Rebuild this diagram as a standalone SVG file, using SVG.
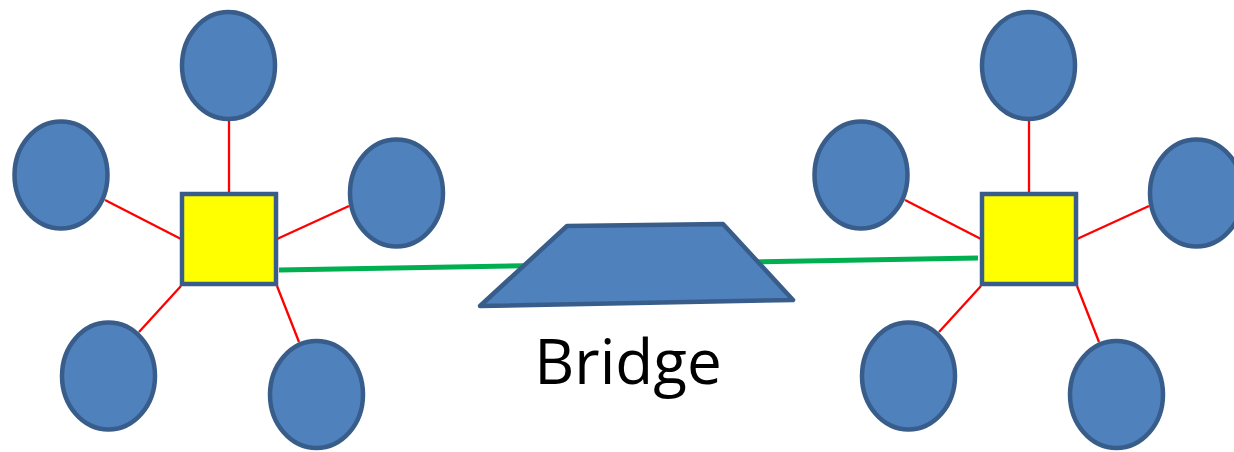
<svg xmlns="http://www.w3.org/2000/svg" width="1234" height="452" viewBox="0 0 1234 452">
<style>
.host{fill:#4F81BD;stroke:#385D8A;stroke-width:4.5}
.hub{fill:#FFFF00;stroke:#385D8A;stroke-width:4.5}
.link{stroke:#FF0000;stroke-width:2.3;fill:none}
.trunk{stroke:#00B050;stroke-width:5;fill:none}
.label{font-family:"Open Sans","Noto Sans",sans-serif;font-size:62px;fill:#000}
</style>
<rect width="1234" height="452" fill="#fff"/>
<g id="connectors">
<line class="trunk" x1="279" y1="270" x2="978" y2="258"/>
<line class="link" x1="229" y1="121" x2="229" y2="193"/>
<line class="link" x1="105" y1="200" x2="181" y2="239"/>
<line class="link" x1="277" y1="239" x2="349" y2="206"/>
<line class="link" x1="139" y1="332" x2="181" y2="286"/>
<line class="link" x1="277" y1="286" x2="299" y2="342"/>
<line class="link" x1="1029" y1="121" x2="1029" y2="193"/>
<line class="link" x1="905" y1="200" x2="981" y2="239"/>
<line class="link" x1="1077" y1="239" x2="1149" y2="206"/>
<line class="link" x1="939" y1="332" x2="981" y2="286"/>
<line class="link" x1="1077" y1="286" x2="1099" y2="342"/>
</g>
<g id="left-top"><ellipse class="host" cx="228.5" cy="65.5" rx="46.5" ry="53.5"/></g>
<g id="left-left"><ellipse class="host" cx="61" cy="175" rx="46.5" ry="53.5"/></g>
<g id="left-right"><ellipse class="host" cx="396.5" cy="193" rx="46.5" ry="53.5"/></g>
<g id="left-bottom-left"><ellipse class="host" cx="108.5" cy="376" rx="46.5" ry="53.5"/></g>
<g id="left-bottom-right"><ellipse class="host" cx="316.5" cy="394.5" rx="46.5" ry="53.5"/></g>
<g id="left-hub"><rect class="hub" x="182" y="194" width="94" height="90"/></g>
<g id="right-top"><ellipse class="host" cx="1028.5" cy="65.5" rx="46.5" ry="53.5"/></g>
<g id="right-left"><ellipse class="host" cx="861" cy="175" rx="46.5" ry="53.5"/></g>
<g id="right-right"><ellipse class="host" cx="1196.5" cy="193" rx="46.5" ry="53.5"/></g>
<g id="right-bottom-left"><ellipse class="host" cx="908.5" cy="376" rx="46.5" ry="53.5"/></g>
<g id="right-bottom-right"><ellipse class="host" cx="1116.5" cy="394.5" rx="46.5" ry="53.5"/></g>
<g id="right-hub"><rect class="hub" x="982" y="194" width="94" height="90"/></g>
<g id="bridge">
<polygon class="host" stroke-linejoin="round" points="480,306 567,226 723,224 793,300"/>
<text class="label" x="628" y="384" text-anchor="middle">Bridge</text>
</g>
</svg>
